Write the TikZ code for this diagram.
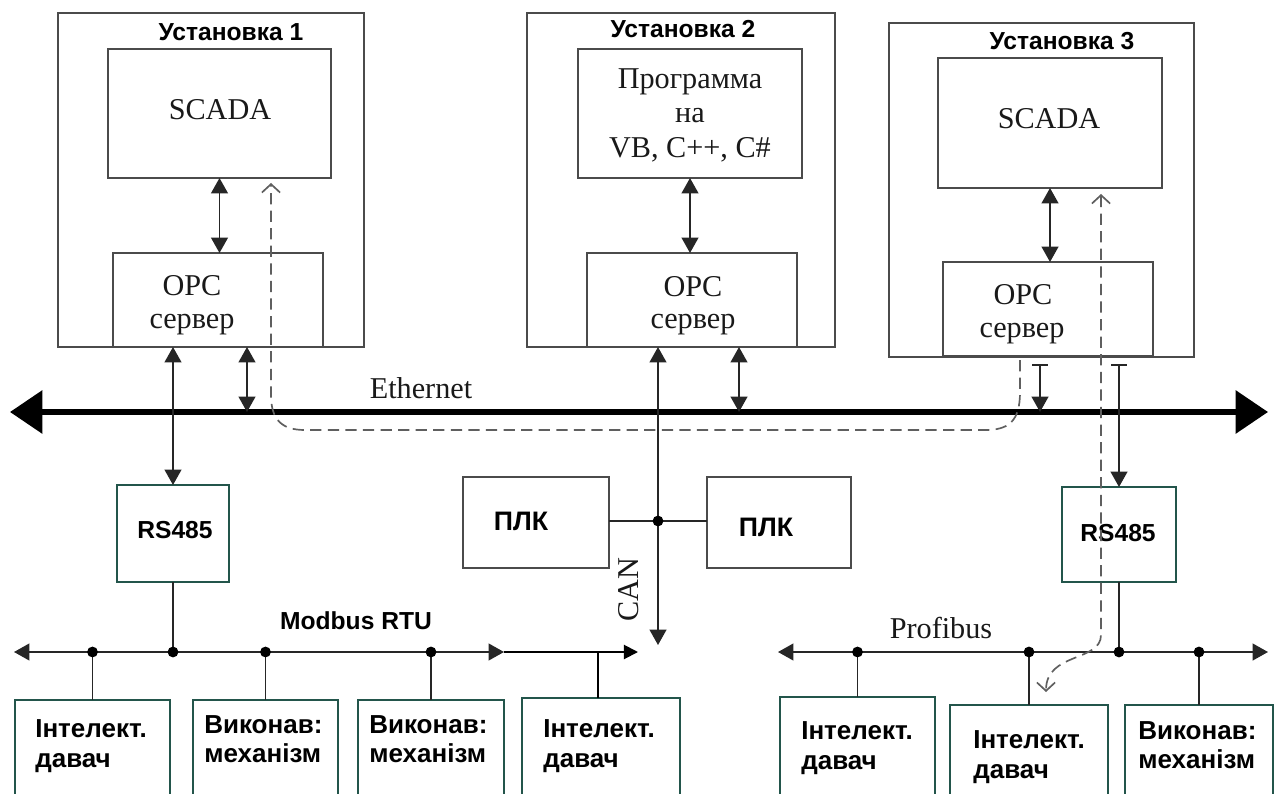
\documentclass[tikz,border=0pt]{standalone}
\usepackage{fontspec}
\setmainfont{Liberation Serif}
\setsansfont{Liberation Sans}
\usetikzlibrary{arrows.meta}
\definecolor{boxgray}{RGB}{75,75,75}
\definecolor{tealb}{RGB}{35,85,75}
\definecolor{dashgray}{RGB}{95,95,95}
\newcommand\mkbox[6]{%
  \node[#6, minimum width={(#4-#2)*0.025cm}, minimum height={(#5-#3)*0.025cm}] (#1) at ({(#2+#4)/2},{(#3+#5)/2}) {};}
\begin{document}
\begin{tikzpicture}[x=0.025cm,y=-0.025cm,
  box/.style={draw=boxgray, line width=1.3pt, inner sep=0pt, outer sep=0pt},
  tbox/.style={draw=tealb, line width=1.5pt, inner sep=0pt, outer sep=0pt},
  ttl/.style={font=\sffamily\bfseries\fontsize{17.5}{20}\selectfont, inner sep=0pt},
  ser/.style={font=\fontsize{21.5}{24.5}\selectfont, inner sep=0pt, text=black!90, align=center},
  sb/.style={font=\sffamily\bfseries\fontsize{17.5}{20}\selectfont, inner sep=0pt},
  plcf/.style={font=\sffamily\bfseries\fontsize{19}{22}\selectfont, inner sep=0pt},
  bt/.style={font=\sffamily\bfseries\fontsize{18.5}{21}\selectfont, inner sep=0pt, align=left, anchor=west},
  ln/.style={line width=1.3pt, draw=black!85},
  dbl/.style={ln, {Triangle[length=11pt,width=12pt]}-{Triangle[length=11pt,width=12pt]}},
  bar/.style={ln, {Bar[width=11pt]}-{Triangle[length=11pt,width=12pt]}},
  eth/.style={line width=4pt, {Triangle[length=23pt,width=30pt]}-{Triangle[length=23pt,width=30pt]}},
  bus/.style={line width=1.3pt, draw=black!85, {Triangle[length=11pt,width=12pt]}-{Triangle[length=11pt,width=12pt]}},
  dsh/.style={draw=dashgray, line width=1.2pt, dash pattern=on 8pt off 4.5pt},
  dot/.style={circle, fill=black, inner sep=0pt, minimum size=0.27cm}
]
\useasboundingbox (0,0) rectangle (1276,794);

% Установка 1
\mkbox{u1}{58}{13}{364}{347}{box}
\mkbox{scada1}{108}{49}{331}{178}{box}
\mkbox{opc1}{113}{253}{323}{347}{box}
\node[ttl] (t1) at (231,32) {Установка 1};
\node[ser] (s1) at (220,110) {SCADA};
\node[ser] (o1a) at (192,286) {OPC};
\node[ser] (o1b) at (192,325) {сервер};

% Установка 2
\mkbox{u2}{527}{13}{835}{347}{box}
\mkbox{prog}{578}{49}{802}{178}{box}
\mkbox{opc2}{587}{253}{797}{347}{box}
\node[ttl] (t2) at (683,29) {Установка 2};
\node[ser] (p2) at (690,115) {Программа\\на\\VB, C++, C\#};
\node[ser] (o2a) at (693,287) {OPC};
\node[ser] (o2b) at (693,325) {сервер};

% Установка 3
\mkbox{u3}{889}{23}{1194}{357}{box}
\mkbox{scada3}{938}{58}{1162}{188}{box}
\mkbox{opc3}{943}{262}{1153}{356}{box}
\node[ttl] (t3) at (1062,41) {Установка 3};
\node[ser] (s3) at (1049,119) {SCADA};
\node[ser] (o3a) at (1023,295) {OPC};
\node[ser] (o3b) at (1022,334) {сервер};

% Ethernet
\coordinate (ethL) at (10,412);
\coordinate (ethR) at (1268,412);
\draw[eth] (ethL) -- (ethR);
\node[ser] (ethlbl) at (421,388) {Ethernet};

% middle boxes
\mkbox{rs1}{117}{485}{229}{582}{tbox}
\node[sb] (rs1t) at (175,530) {RS485};
\mkbox{plc1}{463}{477}{609}{568}{box}
\node[plcf] (plc1t) at (521,521) {ПЛК};
\mkbox{plc2}{707}{477}{851}{568}{box}
\node[plcf] (plc2t) at (766,527) {ПЛК};
\mkbox{rs2}{1062}{487}{1176}{582}{tbox}
\node[sb] (rs2t) at (1118,533) {RS485};
\node[ser, rotate=90] (canl) at (629,590) {CAN};

% inner arrows
\draw[dbl] (scada1.south) -- (scada1.south |- opc1.north);
\draw[dbl] (prog.south) -- (prog.south |- opc2.north);
\draw[dbl] (scada3.south) -- (scada3.south |- opc3.north);

% links to Ethernet
\draw[dbl] (rs1.north |- u1.south) -- (rs1.north);
\coordinate (e1) at (247,412);
\draw[dbl] (e1 |- u1.south) -- (e1);
\coordinate (e2) at (739,412);
\draw[dbl] (e2 |- u2.south) -- (e2);
\coordinate (canj) at (658,521);
\coordinate (cane) at (658,645);
\draw[dbl] (canj |- u2.south) -- (cane);
\draw[ln] (plc1.east |- canj) -- (plc2.west |- canj);
\node[dot] (cand) at (canj) {};
\coordinate (e3t) at (1040,364);
\coordinate (e3) at (1040,412);
\draw[bar] (e3t) -- (e3);
\coordinate (r2t) at (1119,364);
\draw[bar] (r2t) -- (rs2.north);

% Modbus RTU bus
\coordinate (mbL) at (14,652);
\coordinate (mbR) at (504,652);
\coordinate (mbX) at (638,652);
\draw[bus] (mbL) -- (mbR);
\draw[line width=1.4pt, -{Triangle[length=10pt,width=10pt]}] (mbR) -- (mbX);
\node[sb] (mblbl) at (356,621) {Modbus RTU};

\mkbox{bA}{15}{700}{170}{797}{tbox}
\mkbox{bB}{193}{700}{338}{797}{tbox}
\mkbox{bC}{358}{700}{504}{797}{tbox}
\mkbox{bD}{522}{698}{680}{797}{tbox}
\node[bt] (tA) at (35,746) {Інтелект.\\давач};
\node[bt] (tB) at (204,739) {Виконав:\\механізм};
\node[bt] (tC) at (369,739) {Виконав:\\механізм};
\node[bt] (tD) at (543,746) {Інтелект.\\давач};

\draw[ln] (rs1.south) -- (rs1.south |- mbL);
\node[dot] (dR1) at (rs1.south |- mbL) {};
\draw[ln] (bA.north |- mbL) -- (bA.north);
\node[dot] (dA) at (bA.north |- mbL) {};
\draw[ln] (bB.north |- mbL) -- (bB.north);
\node[dot] (dB) at (bB.north |- mbL) {};
\draw[ln] (bC.north |- mbL) -- (bC.north);
\node[dot] (dC) at (bC.north |- mbL) {};
\coordinate (dDt) at (598,652);
\draw[line width=1.4pt] (dDt) -- (dDt |- bD.north);

% Profibus bus
\coordinate (pbL) at (778,652);
\coordinate (pbR) at (1268,652);
\draw[bus] (pbL) -- (pbR);
\node[ser] (pblbl) at (941,628) {Profibus};

\mkbox{bE}{780}{697}{935}{797}{tbox}
\mkbox{bF}{950}{705}{1108}{797}{tbox}
\mkbox{bG}{1125}{705}{1273}{797}{tbox}
\node[bt] (tE) at (801,748) {Інтелект.\\давач};
\node[bt] (tF) at (973,757) {Інтелект.\\давач};
\node[bt] (tG) at (1138,745) {Виконав:\\механізм};

\draw[ln] (rs2.south) -- (rs2.south |- pbL);
\node[dot] (dR2) at (rs2.south |- pbL) {};
\draw[ln] (bE.north |- pbL) -- (bE.north);
\node[dot] (dE) at (bE.north |- pbL) {};
\draw[ln] (bF.north |- pbL) -- (bF.north);
\node[dot] (dF) at (bF.north |- pbL) {};
\draw[ln] (bG.north |- pbL) -- (bG.north);
\node[dot] (dG) at (bG.north |- pbL) {};

% dashed data paths
\coordinate (da1) at (1020,360);
\coordinate (da2) at (271,183);
\draw[dsh, -{Straight Barb[length=6pt,width=13pt]}] (da1) -- (1020,392)
  .. controls (1020,422) and (1008,430) .. (985,430) -- (305,430)
  .. controls (282,430) and (271,420) .. (271,395) -- (da2);
\coordinate (db1) at (1101,194);
\coordinate (db2) at (1046,692);
\draw[dsh, {Straight Barb[length=6pt,width=13pt]}-{Straight Barb[length=6pt,width=13pt]}] (db1) -- (1101,635)
  .. controls (1101,662) and (1046,652) .. (db2);
\end{tikzpicture}
\end{document}
